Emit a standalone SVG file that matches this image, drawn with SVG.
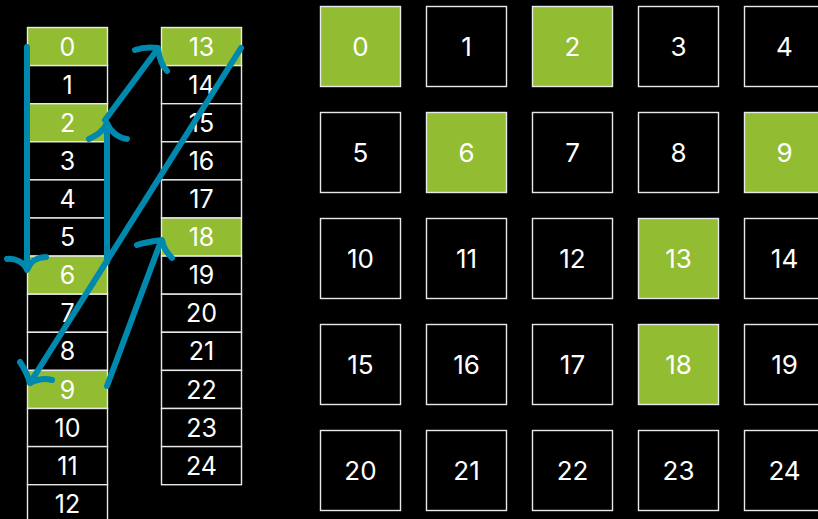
<svg xmlns="http://www.w3.org/2000/svg" width="818" height="519" viewBox="0 0 818 519">
<style>
.c{fill:#000;stroke:#e8e8e8;stroke-width:1.4}
.g{fill:#92bd33;stroke:#e8e8e8;stroke-width:1.4}
.t{fill:#fff;font-family:Inter,"Liberation Sans",sans-serif;font-size:25px;text-anchor:middle}
.tg{fill:#fff;font-family:Inter,"Liberation Sans",sans-serif;font-size:26px;text-anchor:middle}
.a{fill:none;stroke:#0089ae;stroke-width:6;stroke-linecap:round;stroke-linejoin:round}
</style>
<rect width="818" height="519" fill="#000"/>
<g id="list-left">
<g id="l0"><rect class="g" x="27.5" y="27.5" width="80" height="38.1"/><text class="t" x="67.5" y="55.6">0</text></g>
<g id="l1"><rect class="c" x="27.5" y="65.6" width="80" height="38.1"/><text class="t" x="67.5" y="93.7">1</text></g>
<g id="l2"><rect class="g" x="27.5" y="103.7" width="80" height="38.1"/><text class="t" x="67.5" y="131.8">2</text></g>
<g id="l3"><rect class="c" x="27.5" y="141.8" width="80" height="38.1"/><text class="t" x="67.5" y="169.9">3</text></g>
<g id="l4"><rect class="c" x="27.5" y="179.9" width="80" height="38.1"/><text class="t" x="67.5" y="208">4</text></g>
<g id="l5"><rect class="c" x="27.5" y="218" width="80" height="38.1"/><text class="t" x="67.5" y="246.1">5</text></g>
<g id="l6"><rect class="g" x="27.5" y="256.1" width="80" height="38.1"/><text class="t" x="67.5" y="284.2">6</text></g>
<g id="l7"><rect class="c" x="27.5" y="294.2" width="80" height="38.1"/><text class="t" x="67.5" y="322.3">7</text></g>
<g id="l8"><rect class="c" x="27.5" y="332.3" width="80" height="38.1"/><text class="t" x="67.5" y="360.4">8</text></g>
<g id="l9"><rect class="g" x="27.5" y="370.4" width="80" height="38.1"/><text class="t" x="67.5" y="398.5">9</text></g>
<g id="l10"><rect class="c" x="27.5" y="408.5" width="80" height="38.1"/><text class="t" x="67.5" y="436.6">10</text></g>
<g id="l11"><rect class="c" x="27.5" y="446.6" width="80" height="38.1"/><text class="t" x="67.5" y="474.7">11</text></g>
<g id="l12"><rect class="c" x="27.5" y="484.7" width="80" height="38.1"/><text class="t" x="67.5" y="512.8">12</text></g>
</g>
<g id="list-right">
<g id="r13"><rect class="g" x="161.5" y="27.5" width="80" height="38.1"/><text class="t" x="201.5" y="55.6">13</text></g>
<g id="r14"><rect class="c" x="161.5" y="65.6" width="80" height="38.1"/><text class="t" x="201.5" y="93.7">14</text></g>
<g id="r15"><rect class="c" x="161.5" y="103.7" width="80" height="38.1"/><text class="t" x="201.5" y="131.8">15</text></g>
<g id="r16"><rect class="c" x="161.5" y="141.8" width="80" height="38.1"/><text class="t" x="201.5" y="169.9">16</text></g>
<g id="r17"><rect class="c" x="161.5" y="179.9" width="80" height="38.1"/><text class="t" x="201.5" y="208">17</text></g>
<g id="r18"><rect class="g" x="161.5" y="218" width="80" height="38.1"/><text class="t" x="201.5" y="246.1">18</text></g>
<g id="r19"><rect class="c" x="161.5" y="256.1" width="80" height="38.1"/><text class="t" x="201.5" y="284.2">19</text></g>
<g id="r20"><rect class="c" x="161.5" y="294.2" width="80" height="38.1"/><text class="t" x="201.5" y="322.3">20</text></g>
<g id="r21"><rect class="c" x="161.5" y="332.3" width="80" height="38.1"/><text class="t" x="201.5" y="360.4">21</text></g>
<g id="r22"><rect class="c" x="161.5" y="370.4" width="80" height="38.1"/><text class="t" x="201.5" y="398.5">22</text></g>
<g id="r23"><rect class="c" x="161.5" y="408.5" width="80" height="38.1"/><text class="t" x="201.5" y="436.6">23</text></g>
<g id="r24"><rect class="c" x="161.5" y="446.6" width="80" height="38.1"/><text class="t" x="201.5" y="474.7">24</text></g>
</g>
<g id="grid">
<g id="g0"><rect class="g" x="320.5" y="6.5" width="80" height="80"/><text class="tg" x="360.5" y="56">0</text></g>
<g id="g1"><rect class="c" x="426.5" y="6.5" width="80" height="80"/><text class="tg" x="466.5" y="56">1</text></g>
<g id="g2"><rect class="g" x="532.5" y="6.5" width="80" height="80"/><text class="tg" x="572.5" y="56">2</text></g>
<g id="g3"><rect class="c" x="638.5" y="6.5" width="80" height="80"/><text class="tg" x="678.5" y="56">3</text></g>
<g id="g4"><rect class="c" x="744.5" y="6.5" width="80" height="80"/><text class="tg" x="784.5" y="56">4</text></g>
<g id="g5"><rect class="c" x="320.5" y="112.5" width="80" height="80"/><text class="tg" x="360.5" y="162">5</text></g>
<g id="g6"><rect class="g" x="426.5" y="112.5" width="80" height="80"/><text class="tg" x="466.5" y="162">6</text></g>
<g id="g7"><rect class="c" x="532.5" y="112.5" width="80" height="80"/><text class="tg" x="572.5" y="162">7</text></g>
<g id="g8"><rect class="c" x="638.5" y="112.5" width="80" height="80"/><text class="tg" x="678.5" y="162">8</text></g>
<g id="g9"><rect class="g" x="744.5" y="112.5" width="80" height="80"/><text class="tg" x="784.5" y="162">9</text></g>
<g id="g10"><rect class="c" x="320.5" y="218.5" width="80" height="80"/><text class="tg" x="360.5" y="268">10</text></g>
<g id="g11"><rect class="c" x="426.5" y="218.5" width="80" height="80"/><text class="tg" x="466.5" y="268">11</text></g>
<g id="g12"><rect class="c" x="532.5" y="218.5" width="80" height="80"/><text class="tg" x="572.5" y="268">12</text></g>
<g id="g13"><rect class="g" x="638.5" y="218.5" width="80" height="80"/><text class="tg" x="678.5" y="268">13</text></g>
<g id="g14"><rect class="c" x="744.5" y="218.5" width="80" height="80"/><text class="tg" x="784.5" y="268">14</text></g>
<g id="g15"><rect class="c" x="320.5" y="324.5" width="80" height="80"/><text class="tg" x="360.5" y="374">15</text></g>
<g id="g16"><rect class="c" x="426.5" y="324.5" width="80" height="80"/><text class="tg" x="466.5" y="374">16</text></g>
<g id="g17"><rect class="c" x="532.5" y="324.5" width="80" height="80"/><text class="tg" x="572.5" y="374">17</text></g>
<g id="g18"><rect class="g" x="638.5" y="324.5" width="80" height="80"/><text class="tg" x="678.5" y="374">18</text></g>
<g id="g19"><rect class="c" x="744.5" y="324.5" width="80" height="80"/><text class="tg" x="784.5" y="374">19</text></g>
<g id="g20"><rect class="c" x="320.5" y="430.5" width="80" height="80"/><text class="tg" x="360.5" y="480">20</text></g>
<g id="g21"><rect class="c" x="426.5" y="430.5" width="80" height="80"/><text class="tg" x="466.5" y="480">21</text></g>
<g id="g22"><rect class="c" x="532.5" y="430.5" width="80" height="80"/><text class="tg" x="572.5" y="480">22</text></g>
<g id="g23"><rect class="c" x="638.5" y="430.5" width="80" height="80"/><text class="tg" x="678.5" y="480">23</text></g>
<g id="g24"><rect class="c" x="744.5" y="430.5" width="80" height="80"/><text class="tg" x="784.5" y="480">24</text></g>
</g>
<g id="connectors">
<path class="a" d="M27,47 L27,268"/>
<path class="a" d="M7,259 C15,258 24,262 27,270 C30,262 37,257 46,257"/>
<path class="a" d="M107,262 L107,124"/>
<path class="a" d="M89,139 C96,136 104,130 107,123 C110,131 118,138 127,139"/>
<path class="a" d="M105,120 L157,50"/>
<path class="a" d="M135,50 C143,47 151,47 158,48 C159,57 162,66 167,71"/>
<path class="a" d="M241,48 L30,383"/>
<path class="a" d="M20,362 C24,368 28,376 30,383 C38,379 45,378 52,380"/>
<path class="a" d="M107,386 L161,241"/>
<path class="a" d="M137,245 C145,242 154,241 162,240 C163,247 167,253 172,258"/>
</g>
</svg>
